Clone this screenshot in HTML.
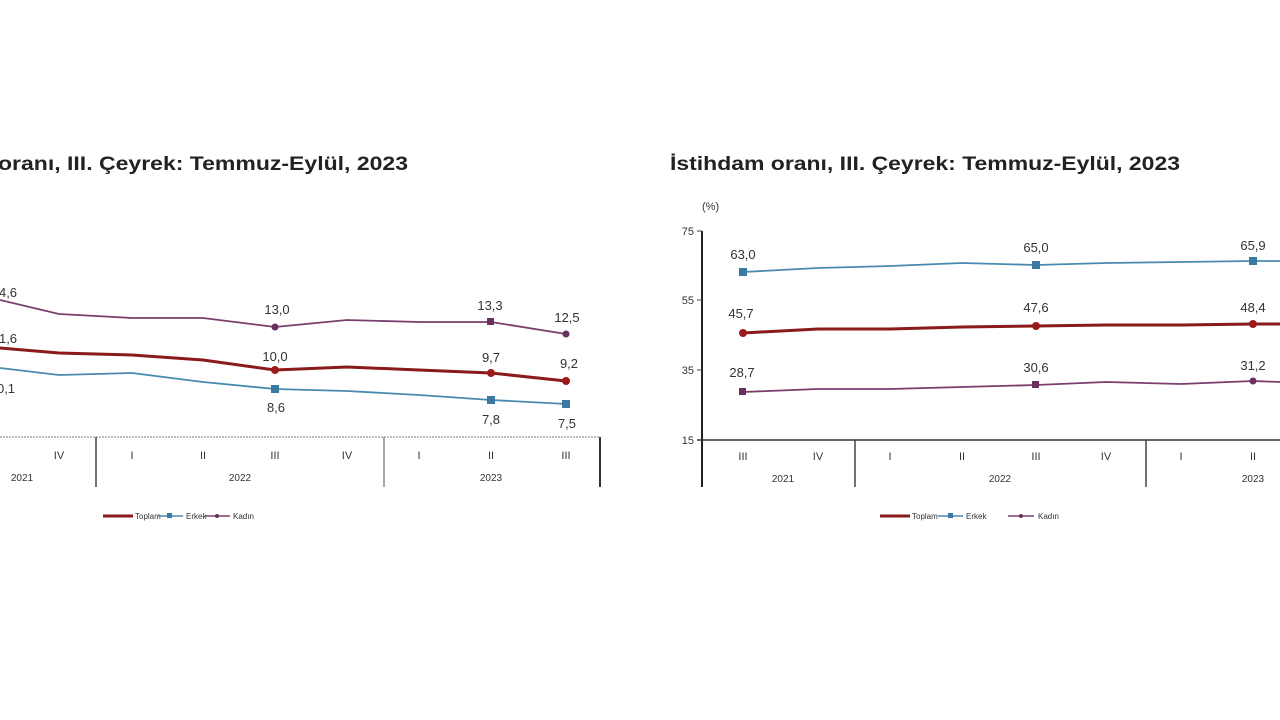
<!DOCTYPE html>
<html><head><meta charset="utf-8"><style>
html,body{margin:0;padding:0;background:#fff;}
svg{display:block;font-family:"Liberation Sans",Arial,sans-serif;}
</style></head><body>
<svg width="1280" height="720" viewBox="0 0 1280 720">
<rect width="1280" height="720" fill="#fff"/>
<!-- LEFT CHART -->
<text x="-2" y="170" font-size="19" font-weight="bold" fill="#222" textLength="410" lengthAdjust="spacingAndGlyphs">oranı, III. Çeyrek: Temmuz-Eylül, 2023</text>
<line x1="0" y1="437" x2="600" y2="437" stroke="#aaa" stroke-width="1.5" stroke-dasharray="2,1"/>
<line x1="96" y1="437" x2="96" y2="487" stroke="#444" stroke-width="1.5"/>
<line x1="384" y1="437" x2="384" y2="487" stroke="#888" stroke-width="1.5"/>
<line x1="600" y1="437" x2="600" y2="487" stroke="#333" stroke-width="2"/>
<g font-size="11" fill="#333" text-anchor="middle">
<text x="59" y="459">IV</text><text x="132" y="459">I</text><text x="203" y="459">II</text><text x="275" y="459">III</text><text x="347" y="459">IV</text><text x="419" y="459">I</text><text x="491" y="459">II</text><text x="566" y="459">III</text>
<text x="22" y="481" font-size="10">2021</text><text x="240" y="481" font-size="10">2022</text><text x="491" y="481" font-size="10">2023</text>
</g>
<polyline fill="none" stroke="#7a3f6e" stroke-width="1.8" points="0,300 59,314 132,318 203,318 275,327 347,320 419,322 491,322 566,334"/>
<polyline fill="none" stroke="#8b1a1a" stroke-width="3" points="0,348 59,353 132,355 203,360 275,370 347,367 419,370 491,373 566,381"/>
<polyline fill="none" stroke="#4a8ab0" stroke-width="1.8" points="0,368 59,375 132,373 203,382 275,389 347,391 419,395 491,400 566,404"/>
<g fill="#6a2f5e"><circle cx="275" cy="327" r="3.5"/><rect x="487" y="318" width="7" height="7"/><circle cx="566" cy="334" r="3.5"/></g>
<g fill="#9b1a1a"><circle cx="275" cy="370" r="4"/><circle cx="491" cy="373" r="4"/><circle cx="566" cy="381" r="4"/></g>
<g fill="#3a7aa0"><rect x="271" y="385" width="8" height="8"/><rect x="487" y="396" width="8" height="8"/><rect x="562" y="400" width="8" height="8"/></g>
<g font-size="13" fill="#333" text-anchor="middle">
<text x="8" y="297">4,6</text><text x="8" y="343">1,6</text><text x="6" y="393">0,1</text>
<text x="277" y="314">13,0</text><text x="490" y="310">13,3</text><text x="567" y="322">12,5</text>
<text x="275" y="361">10,0</text><text x="491" y="362">9,7</text><text x="569" y="368">9,2</text>
<text x="276" y="412">8,6</text><text x="491" y="424">7,8</text><text x="567" y="428">7,5</text>
</g>
<g font-size="8" fill="#333">
<line x1="103" y1="516" x2="133" y2="516" stroke="#8b1a1a" stroke-width="3"/><text x="135" y="519">Toplam</text>
<line x1="157" y1="516" x2="183" y2="516" stroke="#4a8ab0" stroke-width="1.5"/><rect x="167" y="513" width="5" height="5" fill="#3a7aa0"/><text x="186" y="519">Erkek</text>
<line x1="205" y1="516" x2="230" y2="516" stroke="#7a3f6e" stroke-width="1.5"/><circle cx="217" cy="516" r="2" fill="#6a2f5e"/><text x="233" y="519">Kadın</text>
</g>
<!-- RIGHT CHART -->
<text x="670" y="170" font-size="19" font-weight="bold" fill="#222" textLength="510" lengthAdjust="spacingAndGlyphs">İstihdam oranı, III. Çeyrek: Temmuz-Eylül, 2023</text>
<text x="702" y="210" font-size="11" fill="#333">(%)</text>
<g font-size="11" fill="#333" text-anchor="end">
<text x="694" y="235">75</text><text x="694" y="304">55</text><text x="694" y="374">35</text><text x="694" y="444">15</text>
</g>
<line x1="702" y1="231" x2="702" y2="487" stroke="#222" stroke-width="2"/>
<g stroke="#444"><line x1="697" y1="231" x2="702" y2="231"/><line x1="697" y1="300" x2="702" y2="300"/><line x1="697" y1="370" x2="702" y2="370"/></g>
<line x1="697" y1="440" x2="1280" y2="440" stroke="#333" stroke-width="1.5"/>
<line x1="855" y1="440" x2="855" y2="487" stroke="#444" stroke-width="1.5"/>
<line x1="1146" y1="440" x2="1146" y2="487" stroke="#444" stroke-width="1.5"/>
<g font-size="11" fill="#333" text-anchor="middle">
<text x="743" y="460">III</text><text x="818" y="460">IV</text><text x="890" y="460">I</text><text x="962" y="460">II</text><text x="1036" y="460">III</text><text x="1106" y="460">IV</text><text x="1181" y="460">I</text><text x="1253" y="460">II</text>
<text x="783" y="482" font-size="10">2021</text><text x="1000" y="482" font-size="10">2022</text><text x="1253" y="482" font-size="10">2023</text>
</g>
<polyline fill="none" stroke="#4a8ab0" stroke-width="1.8" points="743,272 818,268 890,266 962,263 1036,265 1106,263 1181,262 1253,261 1280,261"/>
<polyline fill="none" stroke="#8b1a1a" stroke-width="3" points="743,333 818,329 890,329 962,327 1036,326 1106,325 1181,325 1253,324 1280,324"/>
<polyline fill="none" stroke="#7a3f6e" stroke-width="1.8" points="743,392 818,389 890,389 962,387 1036,385 1106,382 1181,384 1253,381 1280,382"/>
<g fill="#3a7aa0"><rect x="739" y="268" width="8" height="8"/><rect x="1032" y="261" width="8" height="8"/><rect x="1249" y="257" width="8" height="8"/></g>
<g fill="#9b1a1a"><circle cx="743" cy="333" r="4"/><circle cx="1036" cy="326" r="4"/><circle cx="1253" cy="324" r="4"/></g>
<g fill="#6a2f5e"><rect x="739" y="388" width="7" height="7"/><rect x="1032" y="381" width="7" height="7"/><circle cx="1253" cy="381" r="3.5"/></g>
<g font-size="13" fill="#333" text-anchor="middle">
<text x="743" y="259">63,0</text><text x="1036" y="252">65,0</text><text x="1253" y="250">65,9</text>
<text x="741" y="318">45,7</text><text x="1036" y="312">47,6</text><text x="1253" y="312">48,4</text>
<text x="742" y="377">28,7</text><text x="1036" y="372">30,6</text><text x="1253" y="370">31,2</text>
</g>
<g font-size="8" fill="#333">
<line x1="880" y1="516" x2="910" y2="516" stroke="#8b1a1a" stroke-width="3"/><text x="912" y="519">Toplam</text>
<line x1="938" y1="516" x2="963" y2="516" stroke="#4a8ab0" stroke-width="1.5"/><rect x="948" y="513" width="5" height="5" fill="#3a7aa0"/><text x="966" y="519">Erkek</text>
<line x1="1008" y1="516" x2="1034" y2="516" stroke="#7a3f6e" stroke-width="1.5"/><circle cx="1021" cy="516" r="2" fill="#6a2f5e"/><text x="1038" y="519">Kadın</text>
</g>
</svg>
</body></html>
